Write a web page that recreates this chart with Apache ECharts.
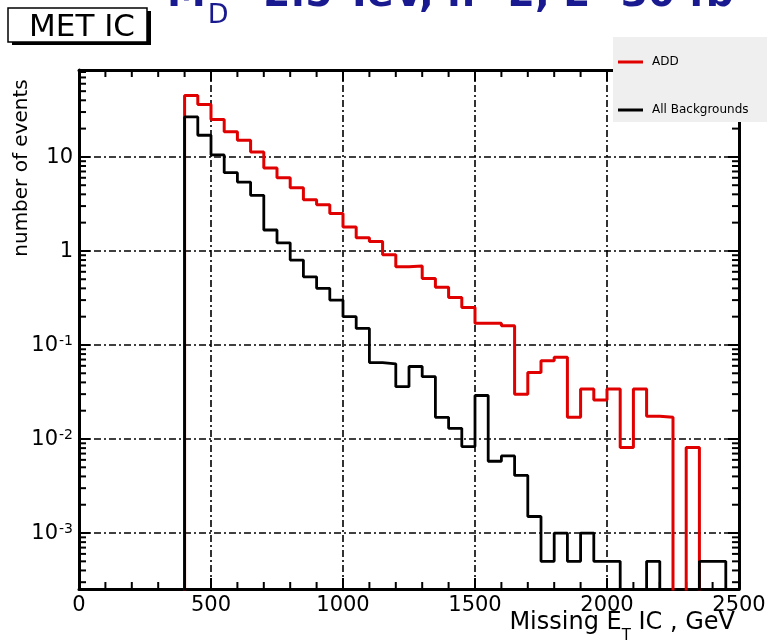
<!DOCTYPE html>
<html>
<head>
<meta charset="utf-8">
<script src="https://cdn.jsdelivr.net/npm/echarts@6/dist/echarts.min.js"></script>
<style>
  html, body { margin: 0; padding: 0; background: #fff; }
  #chart { width: 767px; height: 643px; }
</style>
</head>
<body>
<div id="chart"></div>
<script>
// Missing E_T (IC) spectrum, 50 GeV bins from 0 to 2500 GeV
const binStarts = [
  0, 50, 100, 150, 200, 250, 300, 350, 400, 450,
  500, 550, 600, 650, 700, 750, 800, 850, 900, 950,
  1000, 1050, 1100, 1150, 1200, 1250, 1300, 1350, 1400, 1450,
  1500, 1550, 1600, 1650, 1700, 1750, 1800, 1850, 1900, 1950,
  2000, 2050, 2100, 2150, 2200, 2250, 2300, 2350, 2400, 2450
];
const binEnd = 2500;

// ADD signal (M_D = 2.5 TeV, n = 2)
const addSignal = [
  0, 0, 0, 0, 0, 0, 0, 0, 45, 36,
  25, 18.5, 15, 11.3, 7.6, 6.0, 4.7, 3.5, 3.1, 2.5,
  1.8, 1.38, 1.26, 0.91, 0.68, 0.69, 0.51, 0.41, 0.32, 0.25,
  0.17, 0.17, 0.16, 0.030, 0.051, 0.068, 0.074, 0.017, 0.034, 0.026,
  0.034, 0.0081, 0.034, 0.0175, 0.017, 0, 0.0081, 0, 0, 0
];

// Sum of all Standard Model backgrounds
const allBackgrounds = [
  0, 0, 0, 0, 0, 0, 0, 0, 26.6, 17,
  10.5, 6.8, 5.4, 3.9, 1.67, 1.22, 0.80, 0.53, 0.40, 0.30,
  0.20, 0.15, 0.065, 0.063, 0.036, 0.059, 0.046, 0.017, 0.013, 0.0083,
  0.029, 0.0058, 0.0066, 0.0041, 0.0015, 0.0005, 0.001, 0.0005, 0.001, 0.0005,
  0.0005, 0, 0, 0.0005, 0, 0, 0, 0.0005, 0.0005, 0
];

// Axis ranges and ticks
const xMin = 0, xMax = 2500, xInterval = 500;
const xMinorStep = 100;
const yMin = 2.54e-4, yMax = 84;
const yDecades = [1e-4, 1e-3, 1e-2, 1e-1, 1, 10];
const yMinorMultipliers = [2, 3, 4, 5, 6, 7, 8, 9];

const FONT = 'DejaVu Sans';
const NAVY = '#1a1a90';
const RED = '#e00000';
const MINOR_LEN = 7;

// empty bins sit far below the visible range of the log axis
const EMPTY_BIN = 1e-7;

function histogramPath(values) {
  const pts = binStarts.map((x, i) => [x, values[i] > 0 ? values[i] : EMPTY_BIN]);
  const last = values[values.length - 1];
  pts.push([binEnd, last > 0 ? last : EMPTY_BIN]);
  return pts;
}

// minor tick positions: log-spaced on y, every 100 GeV on x
const yMinorTicks = [];
yDecades.forEach(d => {
  yMinorMultipliers.forEach(m => {
    const v = d * m;
    if (v > yMin && v < yMax) yMinorTicks.push([xMin, v]);
  });
});
const xMinorTicks = [];
for (let x = xMin + xMinorStep; x < xMax; x += xMinorStep) {
  if (x % xInterval !== 0) xMinorTicks.push([x, 1]);
}

function decadeLabel(v) {
  const lg = Math.log10(v);
  const e = Math.round(lg);
  if (Math.abs(lg - e) > 1e-6) return '';
  if (e === 1) return '{b|10}';
  if (e === 0) return '{b|1}';
  return '{b|10}{s|' + e + '}';
}

const gridLine = { show: true, lineStyle: { color: '#000', width: 1.6, type: [7, 3, 2, 3] } };
const frameLine = { show: true, onZero: false, lineStyle: { color: '#000', width: 3 } };
const majorTick = { show: true, inside: true, length: 11, lineStyle: { color: '#000', width: 2 } };
const tickStyle = { stroke: '#000', lineWidth: 2 };

const chart = echarts.init(document.getElementById('chart'), null, { renderer: 'canvas' });

chart.setOption({
  animation: false,
  backgroundColor: '#fff',
  grid: { left: 79, right: 28, top: 70, bottom: 54, containLabel: false, outerBoundsMode: 'none' },
  legend: {
    left: 613, top: 37, orient: 'vertical', z: 20,
    backgroundColor: '#efefef',
    padding: [18, 40, 5, 5],
    itemGap: 34, itemWidth: 25, itemHeight: 3, icon: 'rect',
    textStyle: { fontFamily: FONT, fontSize: 12, color: '#000', lineHeight: 14, padding: [0, 0, 0, 4] },
    data: ['ADD', 'All Backgrounds']
  },
  xAxis: [
    {
      type: 'value', min: xMin, max: xMax, interval: xInterval, position: 'bottom',
      axisLine: frameLine,
      axisTick: majorTick,
      splitLine: gridLine,
      axisLabel: { color: '#000', fontFamily: FONT, fontSize: 21, margin: 6, formatter: v => String(v) }
    },
    {
      type: 'value', min: xMin, max: xMax, interval: xInterval, position: 'top',
      axisLine: frameLine,
      axisTick: majorTick,
      splitLine: { show: false },
      axisLabel: { show: false }
    }
  ],
  yAxis: [
    {
      type: 'log', logBase: 10, min: yMin, max: yMax, position: 'left',
      axisLine: frameLine,
      axisTick: majorTick,
      splitLine: gridLine,
      axisLabel: {
        color: '#000', margin: 6, showMinLabel: false, showMaxLabel: false,
        formatter: decadeLabel,
        rich: {
          b: { fontFamily: FONT, fontSize: 21, color: '#000', lineHeight: 22, verticalAlign: 'bottom' },
          s: { fontFamily: FONT, fontSize: 14, color: '#000', lineHeight: 14, verticalAlign: 'top', padding: [0, 0, 0, 1] }
        }
      }
    },
    {
      type: 'log', logBase: 10, min: yMin, max: yMax, position: 'right',
      axisLine: frameLine,
      axisTick: majorTick,
      splitLine: { show: false },
      axisLabel: { show: false }
    }
  ],
  series: [
    {
      name: 'ADD', type: 'line', step: 'end', showSymbol: false, symbol: 'none',
      xAxisIndex: 0, yAxisIndex: 0, clip: true, z: 3,
      itemStyle: { color: RED },
      lineStyle: { color: RED, width: 3 },
      data: histogramPath(addSignal)
    },
    {
      name: 'All Backgrounds', type: 'line', step: 'end', showSymbol: false, symbol: 'none',
      xAxisIndex: 0, yAxisIndex: 0, clip: true, z: 4,
      itemStyle: { color: '#000' },
      lineStyle: { color: '#000', width: 2.8 },
      data: histogramPath(allBackgrounds)
    },
    {
      // log-spaced minor ticks on the left and right frame
      name: 'yMinorTicks', type: 'custom', silent: true, z: 2,
      xAxisIndex: 0, yAxisIndex: 0, clip: false,
      encode: { x: 0, y: 1 },
      data: yMinorTicks,
      renderItem: function (params, api) {
        const cs = params.coordSys;
        const y = api.coord([api.value(0), api.value(1)])[1];
        return {
          type: 'group',
          children: [
            { type: 'line', shape: { x1: cs.x, y1: y, x2: cs.x + MINOR_LEN, y2: y }, style: tickStyle },
            { type: 'line', shape: { x1: cs.x + cs.width - MINOR_LEN, y1: y, x2: cs.x + cs.width, y2: y }, style: tickStyle }
          ]
        };
      }
    },
    {
      // minor ticks every 100 GeV on the bottom and top frame
      name: 'xMinorTicks', type: 'custom', silent: true, z: 2,
      xAxisIndex: 0, yAxisIndex: 0, clip: false,
      encode: { x: 0, y: 1 },
      data: xMinorTicks,
      renderItem: function (params, api) {
        const cs = params.coordSys;
        const x = api.coord([api.value(0), api.value(1)])[0];
        const bottom = cs.y + cs.height;
        return {
          type: 'group',
          children: [
            { type: 'line', shape: { x1: x, y1: bottom, x2: x, y2: bottom - MINOR_LEN }, style: tickStyle },
            { type: 'line', shape: { x1: x, y1: cs.y, x2: x, y2: cs.y + MINOR_LEN }, style: tickStyle }
          ]
        };
      }
    }
  ],
  graphic: [
    {
      type: 'text', x: 167, y: -24, z: 10,
      style: {
        text: '{m|M}{d|D}{m|=2.5 TeV, n=2, L=30 fb}{p|-1}',
        align: 'left', verticalAlign: 'top',
        rich: {
          m: { fontFamily: FONT, fontSize: 39, fontWeight: 'bold', fill: NAVY, lineHeight: 39, verticalAlign: 'top' },
          d: { fontFamily: FONT, fontSize: 27, fill: NAVY, lineHeight: 27, verticalAlign: 'top', padding: [26, 2, 0, 2] },
          p: { fontFamily: FONT, fontSize: 24, fontWeight: 'bold', fill: NAVY, lineHeight: 24, verticalAlign: 'top' }
        }
      }
    },
    {
      type: 'group', z: 10,
      children: [
        { type: 'rect', shape: { x: 12, y: 11, width: 139, height: 34 }, style: { fill: '#000' } },
        { type: 'rect', shape: { x: 8, y: 8, width: 139, height: 34 }, style: { fill: '#fff', stroke: '#000', lineWidth: 1.5 } },
        { type: 'text', x: 82, y: 28, style: { text: 'MET IC', fontFamily: FONT, fontSize: 31, fill: '#000', align: 'center', verticalAlign: 'middle' } }
      ]
    },
    {
      type: 'text', x: 22, y: 168, rotation: Math.PI / 2, z: 10,
      style: { text: 'number of events', fontFamily: FONT, fontSize: 20, fill: '#000', align: 'center', verticalAlign: 'middle' }
    },
    {
      type: 'text', x: 735, y: 611, z: 10,
      style: {
        text: '{a|Missing E}{t|T}{a| IC , GeV}',
        align: 'right', verticalAlign: 'top',
        rich: {
          a: { fontFamily: FONT, fontSize: 24, fill: '#000', lineHeight: 24, verticalAlign: 'top' },
          t: { fontFamily: FONT, fontSize: 15, fill: '#000', lineHeight: 15, verticalAlign: 'top', padding: [18, 0, 0, 0] }
        }
      }
    }
  ]
});
</script>
</body>
</html>
